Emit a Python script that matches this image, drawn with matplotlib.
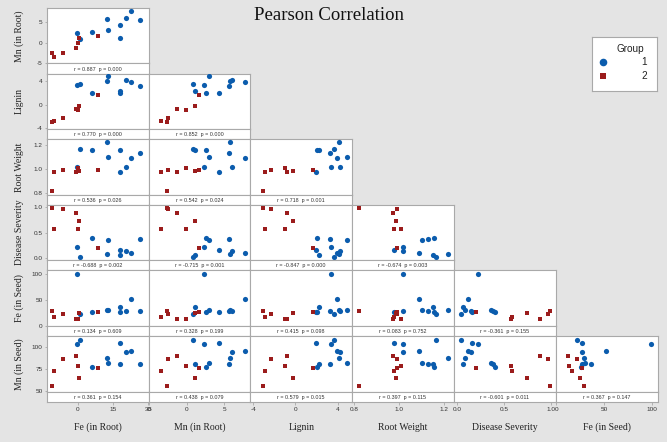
import numpy as np
import matplotlib
matplotlib.use("Agg")
import matplotlib.pyplot as plt

# variables in matrix order
var_names = ["Fe (in Root)", "Mn (in Root)", "Lignin", "Root Weight",
             "Disease Severity", "Fe (in Seed)", "Mn (in Seed)"]

group = [1, 1, 1, 1, 1, 1, 1, 1, 1, 1, 2, 2, 2, 2, 2, 2, 2]

fe_root = [-0.3, 0.9, 5.9, 12.3, 12.7, 18.1, 18.1, 20.4, 22.8, 26.6,
           -11.3, -10.4, -6.4, -0.7, 0.1, 0.4, 8.6]
mn_root = [2.35, 0.82, 2.6, 5.8, 3.0, 4.3, 1.05, 6.1, 7.8, 5.63,
           -2.65, -3.47, -2.5, -1.25, -0.07, 1.17, 1.68]
lignin = [3.38, 3.62, 2.0, 4.1, 4.87, 1.93, 2.28, 4.2, 3.94, 3.26,
          -3.05, -2.88, -2.33, -0.81, -1.0, -0.22, 1.68]
root_weight = [1.02, 1.168, 1.157, 1.22, 1.103, 0.977, 1.154, 1.018, 1.09, 1.13,
               0.822, 0.978, 0.993, 0.973, 1.008, 0.988, 0.992]
disease = [0.217, 0.035, 0.40, 0.08, 0.355, 0.159, 0.063, 0.145, 0.112, 0.38,
           0.99, 0.58, 0.965, 0.885, 0.576, 0.74, 0.198]
fe_seed = [99.7, 21.8, 26.2, 29.4, 30.6, 26.8, 36.4, 27.5, 51.7, 27.5,
           28.6, 16.7, 22.3, 12.3, 13.5, 24.5, 26.9]
mn_seed = [103.8, 108.2, 78.0, 87.9, 81.8, 104.9, 81.5, 94.3, 95.8, 80.7,
           55.7, 73.5, 87.2, 90.0, 78.9, 65.6, 77.0]

# correlations printed under each panel (row by row)
r_vals = [[0.887],
          [0.770, 0.852],
          [0.536, 0.542, 0.718],
          [-0.688, -0.715, -0.847, -0.674],
          [0.134, 0.328, 0.415, 0.083, -0.361],
          [0.361, 0.438, 0.579, 0.397, -0.601, 0.367]]
p_vals = [[0.000],
          [0.000, 0.000],
          [0.026, 0.024, 0.001],
          [0.002, 0.001, 0.000, 0.003],
          [0.609, 0.199, 0.098, 0.752, 0.155],
          [0.154, 0.079, 0.015, 0.115, 0.011, 0.147]]

tick_vals = [[0, 15, 30], [-5, 0, 5], [-4, 0, 4], [0.8, 1.0, 1.2],
             [0.0, 0.5, 1.0], [0, 50, 100], [50, 75, 100]]
tick_labels = [["0", "15", "30"], ["-5", "0", "5"], ["-4", "0", "4"],
               ["0.8", "1.0", "1.2"], ["0.0", "0.5", "1.0"],
               ["0", "50", "100"], ["50", "75", "100"]]

data = np.array([fe_root, mn_root, lignin, root_weight, disease, fe_seed, mn_seed])
group = np.array(group)

# axis ranges per variable
lims = [(-13.42, 30.22), (-5.12, 8.51), (-4.27, 5.37), (0.790, 1.246),
        (-0.037, 1.049), (-0.5, 106.0), (49.8, 112.9)]

W, H = 667, 442
bg = "#e4e4e4"
frame = "#a9a9a9"
blue = "#0b5cad"
red = "#9b1c1c"
tick_font = "Liberation Sans"
label_font = "Liberation Serif"

left0, col_w = 46.7, 101.8
top0, row_h = 8.0, 65.6
data_h, strip_h = 55.5, 10.1


def px_box(x, y, w, h):
    return [x / W, 1 - (y + h) / H, w / W, h / H]


def style_frame(ax):
    for sp in ax.spines.values():
        sp.set_color(frame)
        sp.set_linewidth(0.8)


fig = plt.figure(figsize=(W / 100, H / 100), dpi=100, facecolor=bg)

for i in range(1, 7):
    top = top0 + (i - 1) * row_h
    for j in range(i):
        left = left0 + j * col_w
        ax = fig.add_axes(px_box(left, top, col_w, data_h))
        ax.set_facecolor("white")
        style_frame(ax)
        for g, col, mk, s in [(1, blue, "o", 14), (2, red, "s", 11)]:
            m = group == g
            ax.scatter(data[j][m], data[i][m], c=col, marker=mk, s=s,
                       linewidths=0, zorder=3)
        ax.set_xlim(lims[j])
        ax.set_ylim(lims[i])
        ax.set_xticks([])
        if j == 0:
            ax.set_yticks(tick_vals[i])
            ax.set_yticklabels(tick_labels[i], fontsize=4.6, family=tick_font,
                               color="#333333")
            ax.tick_params(axis="y", length=1.8, width=0.6, pad=1.2, colors=frame,
                           labelcolor="#333333")
        else:
            ax.set_yticks([])

        strip = fig.add_axes(px_box(left, top + data_h, col_w, strip_h))
        strip.set_facecolor("white")
        style_frame(strip)
        strip.set_xlim(lims[j])
        strip.set_yticks([])
        if i == 6:
            strip.set_xticks(tick_vals[j])
            strip.set_xticklabels(tick_labels[j], fontsize=4.6, family=tick_font,
                                  color="#333333")
            strip.tick_params(axis="x", length=2.0, width=0.6, pad=1.6, colors=frame,
                              labelcolor="#333333")
        else:
            strip.set_xticks([])
        strip.text(0.5, 0.45,
                   f"r = {r_vals[i-1][j]:.3f}  p = {p_vals[i-1][j]:.3f}",
                   transform=strip.transAxes, ha="center", va="center",
                   fontsize=3.9, family=tick_font, color="#333333")

# row labels
for i in range(1, 7):
    yc = top0 + (i - 1) * row_h + data_h / 2
    fig.text(19 / W, 1 - yc / H, var_names[i], rotation=90, ha="center",
             va="center", fontsize=7, family=label_font, color="#222222")

# column labels
for j in range(6):
    xc = left0 + j * col_w + col_w / 2
    fig.text(xc / W, 1 - 427 / H, var_names[j], ha="center", va="center",
             fontsize=7, family=label_font, color="#222222")

fig.text(329 / W, 1 - 15 / H, "Pearson Correlation", ha="center", va="center",
         fontsize=13.5, family=label_font, color="#111111")

# legend box
lg = fig.add_axes(px_box(592.3, 37.3, 65, 53.4))
lg.set_facecolor("white")
style_frame(lg)
lg.set_xticks([])
lg.set_yticks([])
lg.set_xlim(0, 65)
lg.set_ylim(53.4, 0)
lg.text(38, 12, "Group", ha="center", va="center", fontsize=7.2,
        family=tick_font, color="#222222")
lg.scatter([10.4], [25], c=blue, marker="o", s=30, linewidths=0)
lg.scatter([10.4], [38.7], c=red, marker="s", s=22, linewidths=0)
lg.text(52, 25, "1", ha="center", va="center", fontsize=7.2,
        family=tick_font, color="#222222")
lg.text(52, 38.7, "2", ha="center", va="center", fontsize=7.2,
        family=tick_font, color="#222222")

plt.savefig("out.png", dpi=100, facecolor=bg)
plt.close()
